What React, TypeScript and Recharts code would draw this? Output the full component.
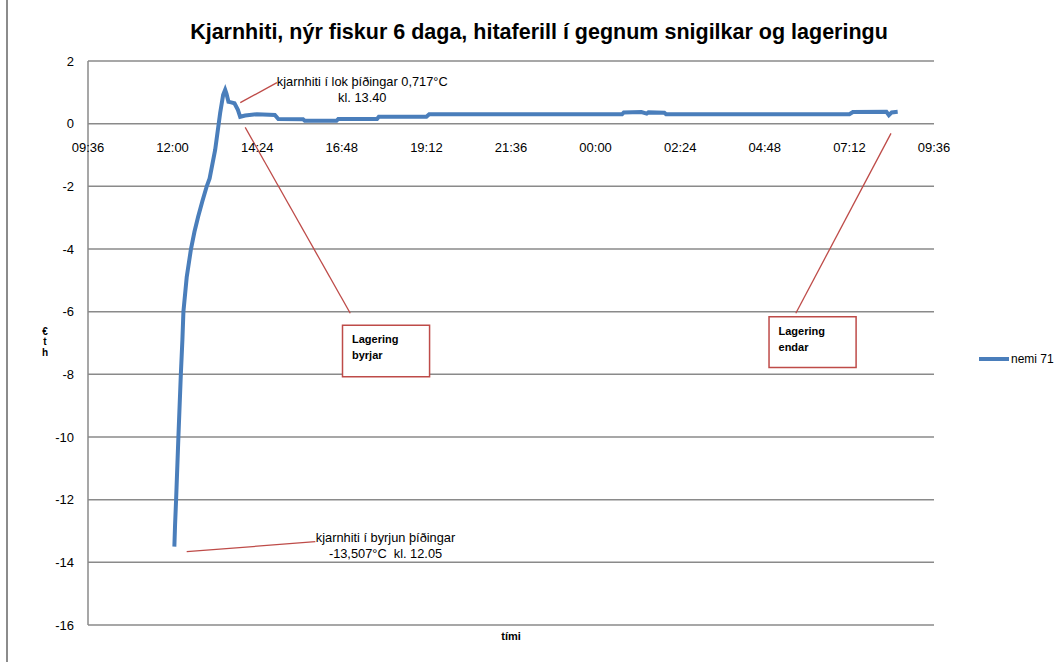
import {
  LineChart,
  Line,
  XAxis,
  YAxis,
  CartesianGrid,
  Legend,
  Label,
  ReferenceLine,
  ReferenceArea,
  ReferenceDot,
} from 'recharts'

const TITLE = 'Kjarnhiti, nýr fiskur 6 daga, hitaferill í gegnum snigilkar og lageringu'
const SERIES_NAME = 'nemi 71'
const X_TITLE = 'tími'

// hours since midnight of day one (values above 24 are the next morning)
const TIME = [
  12.05, 12.07, 12.1, 12.165, 12.233, 12.278, 12.307, 12.4, 12.517, 12.62, 12.724, 12.85, 12.971, 13.05,
  13.207, 13.349, 13.434, 13.491, 13.53, 13.585, 13.66, 13.755, 13.852, 13.917, 14.06, 14.39, 14.9, 15.0,
  15.7, 15.75, 16.65, 16.7, 17.8, 17.85, 19.2, 19.28, 24.75, 24.8, 25.3, 25.45, 25.5, 25.95, 26.0, 31.2,
  31.3, 32.25, 32.32, 32.4, 32.57,
]
const TEMP = [
  -13.5, -12.8, -11.98, -9.99, -8.02, -6.9, -6.0, -4.9, -4.03, -3.45, -2.97, -2.45, -1.99, -1.75,
  -0.84, 0.34, 0.92, 1.08, 0.95, 0.7, 0.68, 0.65, 0.44, 0.22, 0.26, 0.3, 0.28, 0.15,
  0.14, 0.09, 0.09, 0.15, 0.15, 0.22, 0.22, 0.3, 0.3, 0.36, 0.37, 0.32, 0.36, 0.35, 0.3, 0.3,
  0.37, 0.38, 0.27, 0.36, 0.38,
]

const X_TICKS = [9.6, 12, 14.4, 16.8, 19.2, 21.6, 24, 26.4, 28.8, 31.2, 33.6]
const Y_TICKS = [2, 0, -2, -4, -6, -8, -10, -12, -14, -16]

// callouts, in data units
const NOTES = [
  { x: 17.38, y: 1.34, lines: ['kjarnhiti í lok þíðingar 0,717°C', 'kl. 13.40'] },
  { x: 18.04, y: -13.2, lines: ['kjarnhiti í byrjun þíðingar', '-13,507°C\u00a0\u00a0kl. 12.05'] },
]
const BOXES = [
  { x1: 16.82, x2: 19.29, y1: -6.43, y2: -8.08, lines: ['Lagering', 'byrjar'] },
  { x1: 28.92, x2: 31.39, y1: -6.16, y2: -7.78, lines: ['Lagering', 'endar'] },
]
const LEADERS = [
  [{ x: 13.92, y: 0.67 }, { x: 14.96, y: 1.31 }],
  [{ x: 12.4, y: -13.66 }, { x: 16.05, y: -13.34 }],
  [{ x: 14.06, y: -0.12 }, { x: 17.04, y: -6.05 }],
  [{ x: 32.38, y: -0.31 }, { x: 29.68, y: -6.05 }],
]

const FONT = '"Liberation Sans", Arial, sans-serif'
const BLUE = '#4a7ebb'
const RED = '#be4b48'
const GRID = '#8a8a8a'

const chartData = TIME.map((t, i) => ({ t, v: TEMP[i] }))

function clock(h: number) {
  const m = Math.round(h * 60) % 1440
  const hh = Math.floor(m / 60)
  const mm = m % 60
  return `${String(hh).padStart(2, '0')}:${String(mm).padStart(2, '0')}`
}

export default function App() {
  return (
    <div style={{ position: 'absolute', left: 0, top: 0, width: 1060, height: 668, background: '#fff', fontFamily: FONT }}>
      <div style={{ position: 'absolute', left: 6, top: 0, width: 2, height: 662, background: '#8c8c8c' }} />
      <div
        style={{
          position: 'absolute',
          left: 0,
          top: 19,
          width: 1078,
          textAlign: 'center',
          fontWeight: 'bold',
          fontSize: 21.5,
          lineHeight: '26px',
        }}
      >
        {TITLE}
      </div>
      <LineChart
        width={1060}
        height={668}
        data={chartData}
        margin={{ top: 61, right: 126, left: 0, bottom: 0 }}
        style={{ position: 'absolute', left: 0, top: 0 }}
      >
        <CartesianGrid vertical={false} stroke={GRID} strokeWidth={1.5} />
        <XAxis
          dataKey="t"
          type="number"
          domain={[9.6, 33.6]}
          ticks={X_TICKS}
          tick={false}
          tickLine={false}
          axisLine={false}
          height={43}
        >
          <Label
            value={X_TITLE}
            position="insideTop"
            offset={7}
            style={{ fontSize: 11, fontWeight: 'bold', fill: '#000', fontFamily: FONT }}
          />
        </XAxis>
        <YAxis
          type="number"
          domain={[-16, 2]}
          ticks={Y_TICKS}
          width={88}
          tickLine={false}
          tickMargin={8}
          axisLine={{ stroke: GRID, strokeWidth: 1.5 }}
          tick={{ fontSize: 13, fill: '#000', fontFamily: FONT }}
          label={{
            content: ({ viewBox }: any) => {
              const cy = viewBox.y + viewBox.height / 2
              return (
                <text x={45} textAnchor="middle" style={{ fontSize: 10, fontWeight: 'bold', fontFamily: FONT }}>
                  <tspan x={45} y={cy - 8}>€</tspan>
                  <tspan x={45} y={cy + 2}>t</tspan>
                  <tspan x={45} y={cy + 13}>h</tspan>
                </text>
              )
            },
          }}
        />

        {/* time labels sit on the zero line, as in the original */}
        {X_TICKS.map((t) => (
          <ReferenceDot
            key={t}
            x={t}
            y={0}
            r={0}
            fill="none"
            stroke="none"
            ifOverflow="visible"
            label={{
              content: ({ viewBox }: any) => (
                <text
                  x={viewBox.x + viewBox.width / 2}
                  y={viewBox.y + viewBox.height / 2 + 28}
                  textAnchor="middle"
                  style={{ fontSize: 13, fill: '#000', fontFamily: FONT }}
                >
                  {clock(t)}
                </text>
              ),
            }}
          />
        ))}

        {LEADERS.map((seg, i) => (
          <ReferenceLine key={i} segment={seg} stroke={RED} strokeWidth={1.3} ifOverflow="visible" />
        ))}

        {BOXES.map((b, i) => (
          <ReferenceArea
            key={i}
            x1={b.x1}
            x2={b.x2}
            y1={b.y1}
            y2={b.y2}
            fill="#fff"
            fillOpacity={1}
            stroke={RED}
            strokeWidth={1.5}
            label={{
              content: ({ viewBox }: any) => (
                <text style={{ fontSize: 11, fontWeight: 'bold', fill: '#000', fontFamily: FONT }}>
                  {b.lines.map((s, j) => (
                    <tspan key={j} x={viewBox.x + 9.5} y={viewBox.y + 18 + j * 16}>
                      {s}
                    </tspan>
                  ))}
                </text>
              ),
            }}
          />
        ))}

        {NOTES.map((n, i) => (
          <ReferenceDot
            key={i}
            x={n.x}
            y={n.y}
            r={0}
            fill="none"
            stroke="none"
            ifOverflow="visible"
            label={{
              content: ({ viewBox }: any) => {
                const cx = viewBox.x + viewBox.width / 2
                const cy = viewBox.y + viewBox.height / 2
                return (
                  <text textAnchor="middle" style={{ fontSize: 12.8, fill: '#000', fontFamily: FONT }}>
                    {n.lines.map((s, j) => (
                      <tspan key={j} x={cx} y={cy + 4.5 + j * 16}>
                        {s}
                      </tspan>
                    ))}
                  </text>
                )
              },
            }}
          />
        ))}

        <Line
          type="linear"
          dataKey="v"
          name={SERIES_NAME}
          stroke={BLUE}
          strokeWidth={4}
          dot={false}
          isAnimationActive={false}
        />

        <Legend
          layout="horizontal"
          verticalAlign="middle"
          align="center"
          wrapperStyle={{ position: 'absolute', left: 979, top: 352, width: 80 }}
          content={({ payload }: any) => (
            <div style={{ display: 'flex', alignItems: 'center', fontSize: 12, fontFamily: FONT }}>
              <svg width={32} height={8} style={{ display: 'block' }}>
                <line x1={0} y1={4} x2={30} y2={4} stroke={BLUE} strokeWidth={4} />
              </svg>
              <span>{payload && payload[0] ? payload[0].value : SERIES_NAME}</span>
            </div>
          )}
        />
      </LineChart>
    </div>
  )
}
